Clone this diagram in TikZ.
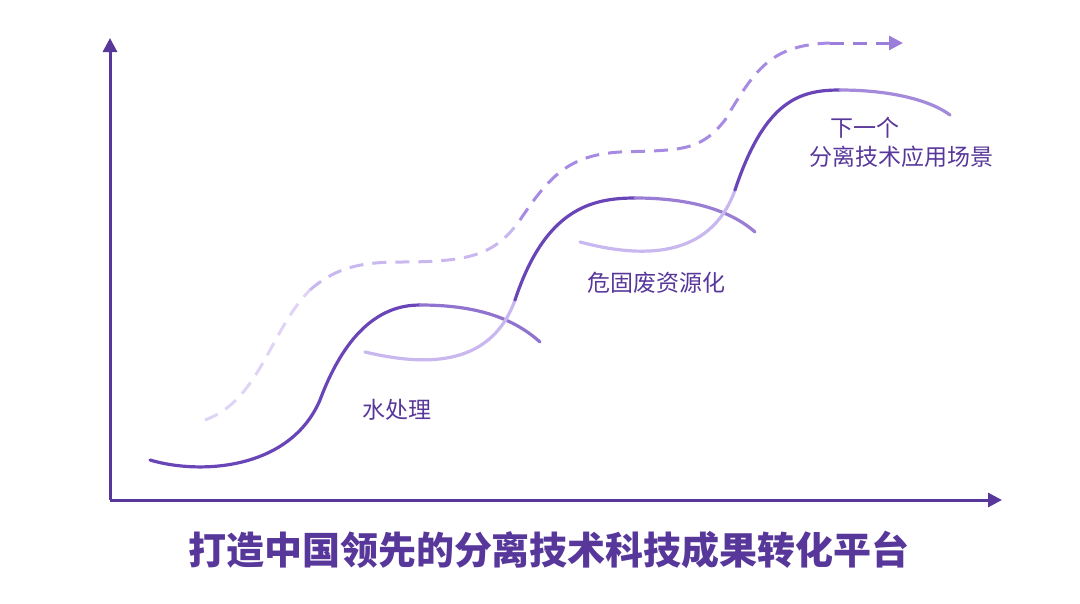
\documentclass[tikz,border=0pt]{standalone}
\usepackage{fontspec}
\setmainfont{Noto Sans CJK SC}
\usetikzlibrary{arrows.meta}
\definecolor{axisviolet}{HTML}{58379A}
\definecolor{curvedark}{HTML}{6A45B8}
\definecolor{curvelight}{HTML}{C9B8F0}
\definecolor{dashviolet}{HTML}{A78BE3}

\begin{document}
\begin{tikzpicture}[
    x=1pt, y=-1pt,
    axis/.style={axisviolet, line width=3pt, -{Triangle[length=14pt, width=14pt]}},
    wave/.style={line width=3.2pt, line cap=round},
    dashwave/.style={line width=3pt, dash pattern=on 14pt off 9pt, line cap=butt},
    label/.style={text=axisviolet, font=\fontsize{23}{28}\selectfont, inner sep=0pt}
]
    \useasboundingbox (0,0) rectangle (1080,603);

    % axes
    \coordinate (origin) at (110,500);
    \coordinate (ytip) at (110,38);
    \coordinate (xtip) at (1002,500);
    \draw[axis] (origin) -- (ytip);
    \draw[axis] (origin) -- (xtip);

    % dashed trend line
    \draw[dashwave, curvelight!60] (205,420) .. controls (260,400) and (270,330) .. (310,290);
    \draw[dashwave, curvelight] (310,290) .. controls (335,268) and (360,262) .. (400,262)
        .. controls (470,262) and (495,255) .. (520,220);
    \draw[dashwave, dashviolet] (520,220) .. controls (550,175) and (570,155) .. (620,152)
        .. controls (680,150) and (700,152) .. (725,120)
        .. controls (755,70) and (770,45) .. (830,43);
    \coordinate (dashend) at (830,43);
    \coordinate (dashtip) at (903,43);
    \draw[dashwave, dashviolet!80!curvedark, -{Triangle[length=14pt, width=14pt]}] (dashend) -- (dashtip);

    % water treatment wave
    \draw[wave, curvedark] (150,460) .. controls (200,475) and (290,470) .. (320,400)
        .. controls (350,320) and (390,305) .. (420,305);
    \draw[wave, curvedark!60!curvelight] (420,305) .. controls (470,305) and (510,315) .. (540,342);

    % solid waste wave
    \draw[wave, curvelight] (365,352) .. controls (420,365) and (490,370) .. (515,300);
    \draw[wave, curvedark] (515,300) .. controls (545,210) and (590,198) .. (635,198);
    \draw[wave, curvedark!50!curvelight] (635,198) .. controls (690,198) and (730,210) .. (755,232);

    % next scenario wave
    \draw[wave, curvelight] (580,242) .. controls (640,258) and (710,260) .. (735,190);
    \draw[wave, curvedark] (735,190) .. controls (765,100) and (800,90) .. (840,90);
    \draw[wave, curvedark!40!curvelight] (840,90) .. controls (890,90) and (930,100) .. (950,115);

    % labels
    \node[label] (water) at (397,410) {水处理};
    \node[label] (waste) at (656,283) {危固废资源化};
    \node[label] (next) at (865,128) {下一个};
    \node[label] (nextscene) at (901,157) {分离技术应用场景};
    \node[text=axisviolet, font=\fontsize{38}{44}\selectfont\bfseries] (title) at (549,550)
        {打造中国领先的分离技术科技成果转化平台};
\end{tikzpicture}
\end{document}
